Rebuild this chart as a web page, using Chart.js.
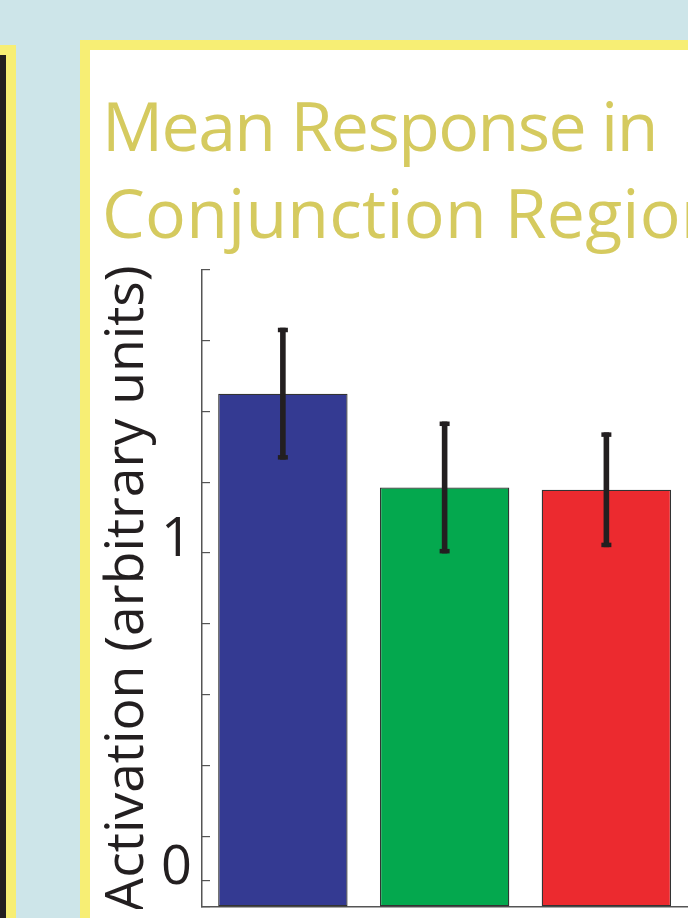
<!DOCTYPE html>
<html>
<head>
<meta charset="utf-8">
<script src="https://cdn.jsdelivr.net/npm/chart.js@4.4.1/dist/chart.umd.min.js"></script>
<style>
    html, body { margin: 0; padding: 0; }
    body {
        width: 688px;
        height: 918px;
        overflow: hidden;
        position: relative;
        background: #cde5e9;
        font-family: "Open Sans", sans-serif;
    }
    #sidePanel {
        position: absolute;
        left: -20px; top: 45px;
        width: 16px; height: 1000px;
        border: 10px solid #f7ee74;
        background: #231f20;
    }
    #mainPanel {
        position: absolute;
        left: 80px; top: 40px;
        width: 900px; height: 1000px;
        border: 10px solid #f7ee74;
        background: #ffffff;
    }
    #title {
        position: absolute;
        left: 102px; top: 81px;
        margin: 0;
        font-size: 68px;
        font-weight: normal;
        line-height: 87px;
        color: #d5ca5f;
        white-space: nowrap;
    }
    #title .l1 { letter-spacing: -1.6px; }
    #title .l2 { letter-spacing: 0.2px; }
    #chartBox {
        position: absolute;
        left: 89px; top: 260px;
        width: 760px; height: 649px;
    }
</style>
</head>
<body>
<div id="sidePanel"></div>
<div id="mainPanel"></div>
<h1 id="title"><span class="l1">Mean Response in</span><br><span class="l2">Conjunction Region</span></h1>
<div id="chartBox"><canvas id="responseChart"></canvas></div>

<script>
// Values
const categories = ['Condition 1', 'Condition 2', 'Condition 3', 'Condition 4'];
const meanResponse = [1.486, 1.200, 1.193, null];
const errorSize = [0.201, 0.201, 0.175, null];

// y axis: evenly spaced tick marks plus the extra one at zero
const yMin = -0.079;
const yMax = 1.863;
const yTickValues = [-0.079, 0, 0.137, 0.353, 0.568, 0.784, 1, 1.216, 1.432, 1.647, 1.863];
const yLabelValues = [0, 1];
const yTickLabels = ['0', '1'];

const barColors = ['#343a92', '#04a84e', '#ec2a2f', '#888888'];
const inkColor = '#231f20';

// draws the black error bars on top of each bar
const errorBarPlugin = {
    id: 'errorBars',
    afterDatasetsDraw(chart) {
        const ctx = chart.ctx;
        const yScale = chart.scales.y;
        const meta = chart.getDatasetMeta(0);
        ctx.save();
        ctx.fillStyle = inkColor;
        meta.data.forEach((bar, i) => {
            const m = meanResponse[i];
            const e = errorSize[i];
            if (m == null || e == null) return;
            const top = yScale.getPixelForValue(m + e);
            const bottom = yScale.getPixelForValue(m - e);
            ctx.fillRect(bar.x - 2.8, top, 5.6, bottom - top);
            ctx.fillRect(bar.x - 5, top, 10, 4.5);
            ctx.fillRect(bar.x - 5, bottom - 4.5, 10, 4.5);
        });
        ctx.restore();
    }
};

const ctx = document.getElementById('responseChart').getContext('2d');
new Chart(ctx, {
    type: 'bar',
    data: {
        labels: categories,
        datasets: [{
            label: 'Mean response',
            data: meanResponse,
            backgroundColor: barColors,
            borderColor: '#333333',
            borderWidth: 1.3,
            borderSkipped: false,
            base: yMin,
            barPercentage: 0.8,
            categoryPercentage: 1.0
        }]
    },
    options: {
        responsive: true,
        maintainAspectRatio: false,
        animation: false,
        layout: {
            padding: { left: 0, right: 0, top: 10, bottom: 2 }
        },
        plugins: {
            legend: { display: false },
            tooltip: { enabled: false }
        },
        scales: {
            x: {
                offset: true,
                grid: { display: false },
                ticks: { display: false },
                border: { color: '#555555', width: 1.5 },
                afterFit(scale) {
                    scale.height = 0;
                    scale.paddingLeft = 0;
                    scale.paddingRight = 0;
                }
            },
            y: {
                min: yMin,
                max: yMax,
                afterBuildTicks(scale) {
                    scale.ticks = yTickValues.map(v => ({ value: v }));
                },
                afterFit(scale) {
                    // big tick font would otherwise push the plot area inwards
                    scale.width = 113;
                    scale.paddingTop = 0;
                    scale.paddingBottom = 0;
                },
                ticks: {
                    autoSkip: false,
                    padding: 18,
                    labelOffset: -12,
                    color: inkColor,
                    font: { family: '"Open Sans", sans-serif', size: 54 },
                    callback(value) {
                        const k = yLabelValues.findIndex(v => Math.abs(v - value) < 1e-6);
                        return k >= 0 ? yTickLabels[k] : '';
                    }
                },
                grid: {
                    drawOnChartArea: false,
                    tickLength: -8,
                    color: '#555555',
                    lineWidth: 1.2
                },
                border: { color: '#555555', width: 1.5 },
                title: {
                    display: true,
                    text: 'Activation (arbitrary units)',
                    color: inkColor,
                    font: { family: '"Open Sans", sans-serif', size: 53.5 },
                    padding: { top: 7, bottom: 0 }
                }
            }
        }
    },
    plugins: [errorBarPlugin]
});
</script>
</body>
</html>
